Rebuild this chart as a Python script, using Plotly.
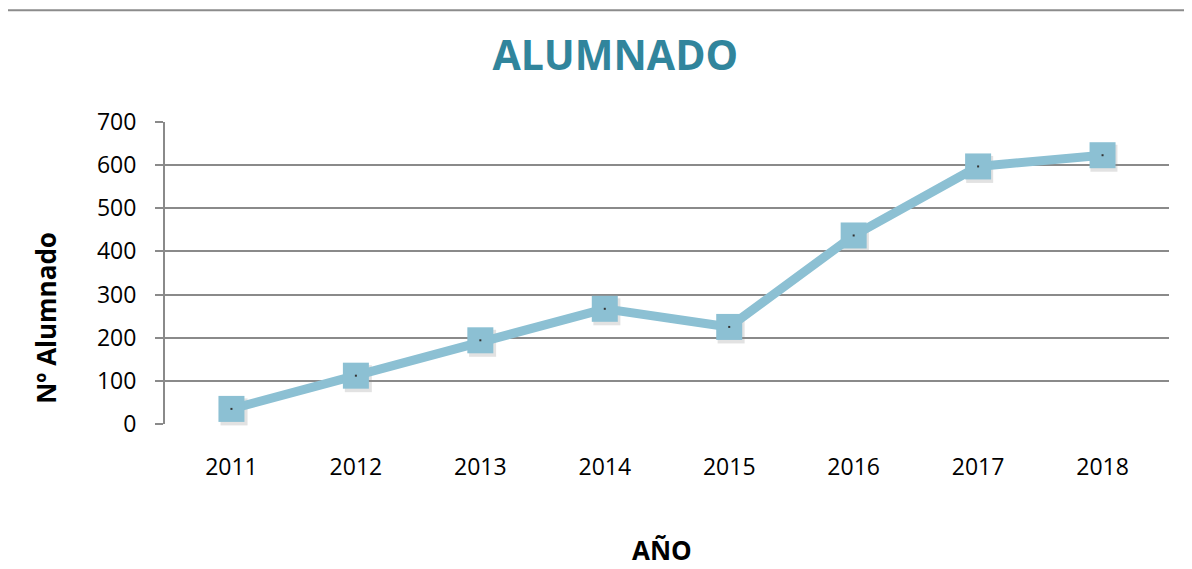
import plotly.graph_objects as go

years = ["2011", "2012", "2013", "2014", "2015", "2016", "2017", "2018"]
alumnado = [35, 112, 194, 267, 225, 437, 597, 623]
y_ticks = [0, 100, 200, 300, 400, 500, 600, 700]

# page body has an 8px margin, so work in figure coords = screen - 8
OFF = 8
W, H = 1192 - OFF, 569 - OFF

# plot box on screen (main axes), plus a few px for the marker shadow axes
SH_X, SH_Y = 2, 3
L, R = 164.5 - OFF, 1169 - OFF + SH_X
T, B = 121.7 - OFF, 423.7 - OFF + SH_Y
ml, mr, mt, mb = L, W - R, T, H - B
pw, ph = R - L, B - T

line_col = "#8CC0D3"
grid_col = "#8A8A8A"

fig = go.Figure()
# soft shadow under the markers, drawn first on hidden axes nudged down/right
fig.add_trace(go.Scatter(
  x=years, y=alumnado, xaxis="x", yaxis="y",
  mode="markers",
  marker=dict(symbol="square", size=27, color="rgba(60,60,60,0.15)"),
  hoverinfo="skip", showlegend=False
))
fig.add_trace(go.Scatter(
  x=years, y=alumnado, xaxis="x2", yaxis="y2",
  mode="lines+markers",
  line=dict(color=line_col, width=9),
  marker=dict(symbol="square", size=26, color=line_col),
  hoverinfo="x+y",
  showlegend=False
))
# tiny dark dot in the middle of each marker
fig.add_trace(go.Scatter(
  x=years, y=alumnado, xaxis="x2", yaxis="y2",
  mode="markers",
  marker=dict(symbol="square", size=2, color="#333333"),
  hoverinfo="skip",
  showlegend=False
))

def px_x(v):
  return (v - OFF - L) / pw
def px_y(v):
  return (B - (v - OFF)) / ph

# outer chart border (runs off right and bottom edges)
fig.add_shape(type="rect", xref="paper", yref="paper",
  x0=px_x(3), x1=px_x(1210), y0=px_y(10), y1=px_y(600),
  line=dict(color="#8C8C8C", width=2), fillcolor="rgba(0,0,0,0)", layer="below")

fig.add_annotation(text="<b>Nº Alumnado</b>", xref="paper", yref="paper",
  x=px_x(46), y=px_y(318), xanchor="center", yanchor="middle",
  textangle=-90, showarrow=False,
  font=dict(family="Open Sans", size=26, color="black"))
fig.add_annotation(text="<b>AÑO</b>", xref="paper", yref="paper",
  x=px_x(662), y=px_y(550), xanchor="center", yanchor="middle", showarrow=False,
  font=dict(family="Open Sans", size=26, color="black"))

fig.update_layout(
  width=W, height=H,
  margin=dict(l=ml, r=mr, t=mt, b=mb),
  paper_bgcolor="white", plot_bgcolor="rgba(0,0,0,0)",
  title=dict(text="<b>ALUMNADO</b>", x=px_x(615), xref="paper", xanchor="center",
    y=1 - (56 - OFF) / H, yanchor="middle",
    font=dict(family="Open Sans", size=41, color="#31859C")),
  font=dict(family="Open Sans", size=23, color="black"),
  xaxis=dict(
    type="category", domain=[SH_X / pw, 1], anchor="y",
    visible=False, showgrid=False
  ),
  yaxis=dict(
    range=[0, 700], domain=[0, 1 - SH_Y / ph], anchor="x",
    visible=False, showgrid=False
  ),
  xaxis2=dict(
    type="category", domain=[0, 1 - SH_X / pw], anchor="y2",
    showgrid=False, showline=False, ticks="",
    zeroline=False, tickfont=dict(size=23), ticklabelstandoff=27
  ),
  yaxis2=dict(
    range=[0, 700], domain=[SH_Y / ph, 1], anchor="x2", tickvals=y_ticks,
    showgrid=True, gridcolor=grid_col, gridwidth=1.5,
    showline=True, linecolor=grid_col, linewidth=2, ticks="outside", ticklen=8,
    tickcolor=grid_col, tickwidth=1.5, zeroline=False, tickfont=dict(size=23),
    ticklabelstandoff=14
  )
)

fig.write_html("out.html")
